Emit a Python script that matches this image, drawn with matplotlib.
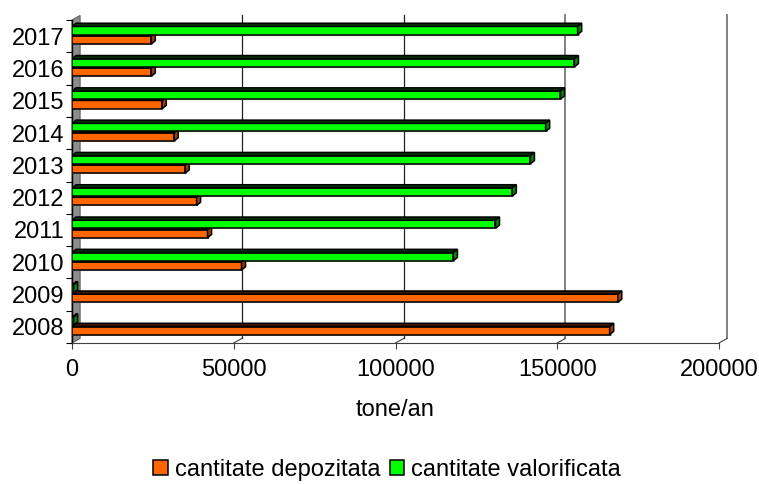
import matplotlib
matplotlib.use("Agg")
import matplotlib.pyplot as plt
from matplotlib.patches import Polygon, Patch
import numpy as np

plt.rcParams['font.family'] = ['Liberation Sans', 'DejaVu Sans']

years = ['2008', '2009', '2010', '2011', '2012', '2013', '2014', '2015', '2016', '2017']
depozitata = [166200, 168700, 52400, 41900, 38500, 35000, 31600, 27900, 24500, 24500]
valorificata = [500, 500, 117900, 130900, 136100, 141700, 146400, 151000, 155300, 156300]
xticks = [0, 50000, 100000, 150000, 200000]

W, H = 759, 484
fig = plt.figure(figsize=(W / 100, H / 100), dpi=100)
ax = fig.add_axes([72 / W, (H - 343) / H, (719 - 72) / W, (343 - 20) / H])
ax.set_xlim(0, 200000)
ax.set_ylim(-0.5, 9.5)

# depth offsets (data units): wall and bars
dxw, dyw = 2500, 0.14
dxb, dyb = 1250, 0.1
h = 0.25


def bar3d(y0, v, face, top, side):
    # gray shadow, front face, top face, side face
    ax.barh(y0 + h / 2 - 0.03, v + 600, height=h, left=0, color='#b0b0b0', lw=0, zorder=4)
    ax.barh(y0 + h / 2, v, height=h, left=0, color=face, edgecolor='black', lw=1.1, zorder=5)
    ax.add_patch(Polygon([(0, y0 + h), (v, y0 + h), (v + dxb, y0 + h + dyb), (dxb, y0 + h + dyb)],
                         closed=True, facecolor=top, edgecolor='black', lw=1.1, zorder=5))
    ax.add_patch(Polygon([(v, y0), (v, y0 + h), (v + dxb, y0 + h + dyb), (v + dxb, y0 + dyb)],
                         closed=True, facecolor=side, edgecolor='black', lw=1.1, zorder=5))


# left wall
ax.add_patch(Polygon([(0, -0.5), (0, 9.5), (dxw, 9.5 + dyw), (dxw, -0.5 + dyw)], closed=True,
                     facecolor='#8c8c8c', edgecolor='#606060', lw=0.8, zorder=1, clip_on=False))

# back gridlines and floor diagonals
for x in xticks[1:]:
    c = '#202020' if x <= 100000 else '#808080'
    lw = 0.9 if x <= 100000 else 1.4
    ax.plot([x + dxw, x + dxw], [-0.5 + dyw, 9.5 + dyw], color=c, lw=lw, zorder=2, clip_on=False)
    ax.plot([x, x + dxw], [-0.5, -0.5 + dyw], color='#404040', lw=0.8, zorder=2, clip_on=False)

yy = np.arange(len(years))
for i in yy:
    bar3d(i - 0.24, depozitata[i], '#ff6600', '#3a1500', '#a03c00')
    bar3d(i + 0.05, valorificata[i], '#00ff00', '#003000', '#008c00')

for s in ['top', 'right']:
    ax.spines[s].set_visible(False)
ax.spines['left'].set_color('black')
ax.spines['left'].set_linewidth(1.0)
ax.spines['bottom'].set_color('#404040')
ax.spines['bottom'].set_linewidth(0.8)

ax.set_xticks(xticks)
ax.set_xticklabels([str(x) for x in xticks])
ax.tick_params(axis='x', direction='out', length=4.3, width=0.8, color='#404040', pad=7, labelsize=17)
ax.set_yticks(yy)
ax.set_yticklabels(years)
ax.set_yticks(np.arange(-0.5, 10, 1), minor=True)
ax.tick_params(axis='y', which='major', length=0, pad=5.5, labelsize=17)
ax.tick_params(axis='y', which='minor', direction='out', length=4.3, width=0.8, color='black')

fig.text(395 / W, 1 - 410 / H, 'tone/an', ha='center', va='center', fontsize=17)

handles = [Patch(facecolor='#ff6600', edgecolor='black', lw=1.1),
           Patch(facecolor='#00ff00', edgecolor='black', lw=1.1)]
fig.legend(handles, ['cantitate depozitata', 'cantitate valorificata'], loc='center',
           bbox_to_anchor=(387 / W, 1 - 470 / H), ncol=2, frameon=False, fontsize=17,
           handlelength=0.6, handleheight=0.6, handletextpad=0.3, columnspacing=0.4)

fig.savefig('out.png', dpi=100)
